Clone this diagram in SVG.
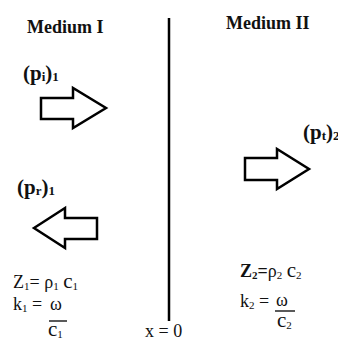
<svg xmlns="http://www.w3.org/2000/svg" width="338" height="341" viewBox="0 0 338 341">
<style>
text{font-family:"Liberation Serif","Times New Roman",serif;fill:#111}
.h{font-weight:bold;font-size:18px}
.b{font-weight:bold;font-size:21px}
.r{font-size:18px}
.s{font-size:11px}
.bs{font-size:13px}
.c{font-size:21px}
.arrow{fill:#fff;stroke:#000;stroke-width:2.5;stroke-linejoin:miter}
.wall{stroke:#000;stroke-width:2.5}
</style>
<rect width="338" height="341" fill="#fff"/>
<g id="boundary">
<line class="wall" x1="169" y1="18" x2="169" y2="321"/>
<text id="x0" class="r" x="145" y="337">x = 0</text>
</g>
<g id="medium1">
<text class="h" x="27" y="33">Medium I</text>
<text class="r" x="13" y="288">Z<tspan class="s" dy="2">1</tspan><tspan dy="-2">= ρ</tspan><tspan class="s" dy="2">1</tspan><tspan dy="-2"> </tspan><tspan class="c">c</tspan><tspan class="s" dy="2">1</tspan></text>
<text class="r" x="13" y="310">k<tspan class="s" dy="2">1</tspan><tspan dy="-2"> = </tspan></text>
<text class="r" x="50" y="310">ω</text>
<line x1="49" y1="321" x2="67" y2="321" stroke="#000" stroke-width="1.3"/>
<text class="c" x="48" y="336">c<tspan class="s" dy="2">1</tspan></text>
</g>
<g id="medium2">
<text class="h" x="226" y="29">Medium II</text>
<text class="r" x="240" y="277"><tspan font-weight="bold">Z</tspan><tspan class="s" font-weight="bold" dy="2">2</tspan><tspan dy="-2" font-weight="bold">=</tspan>ρ<tspan class="s" dy="2">2</tspan><tspan dy="-2"> </tspan><tspan class="c">c</tspan><tspan class="s" dy="2">2</tspan></text>
<text class="r" x="240" y="307">k<tspan class="s" dy="2">2</tspan><tspan dy="-2"> = </tspan></text>
<text class="r" x="276" y="306">ω</text>
<line x1="275" y1="311" x2="295" y2="311" stroke="#000" stroke-width="1.3"/>
<text class="c" x="277" y="327">c<tspan class="s" dy="2">2</tspan></text>
</g>
<g id="incident">
<text class="b" x="23" y="80">(p<tspan class="bs" dy="1">i</tspan><tspan dy="-1">)</tspan><tspan class="bs" dy="1">1</tspan></text>
<path class="arrow" d="M41,98 H73 V88 L106,108 L73,128 V119 H41 Z"/>
</g>
<g id="reflected">
<text class="b" x="17" y="194">(p<tspan class="bs" dy="1">r</tspan><tspan dy="-1">)</tspan><tspan class="bs" dy="1">1</tspan></text>
<path class="arrow" d="M34,228 L65,208 V218 H97 V239 H65 V248 Z"/>
</g>
<g id="transmitted">
<text class="b" x="303" y="139">(p<tspan class="bs" dy="1">t</tspan><tspan dy="-1">)</tspan><tspan class="bs" dy="1">2</tspan></text>
<path class="arrow" d="M245,158 H277 V149 L309,169 L277,189 V180 H245 Z"/>
</g>
<g id="connectors"></g>
</svg>
